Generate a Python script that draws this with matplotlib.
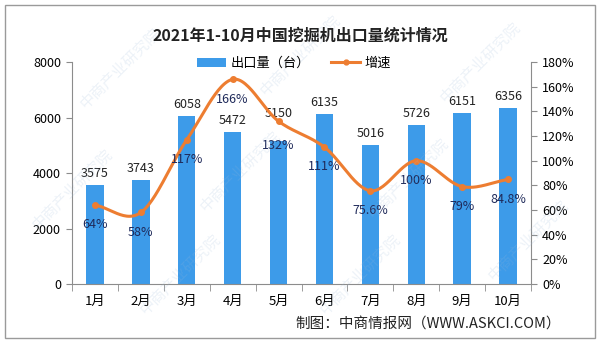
import numpy as np
import matplotlib.pyplot as plt
from matplotlib.lines import Line2D
from matplotlib.patches import Patch, Rectangle

plt.rcParams['font.family'] = ['Noto Sans CJK SC', 'DejaVu Sans']

months = ['1月', '2月', '3月', '4月', '5月', '6月', '7月', '8月', '9月', '10月']
exports = [3575, 3743, 6058, 5472, 5150, 6135, 5016, 5726, 6151, 6356]
growth = [64, 58, 117, 166, 132, 111, 75.6, 100, 79, 84.8]
growth_labels = ['64%', '58%', '117%', '166%', '132%', '111%', '75.6%', '100%', '79%', '84.8%']

BAR_COLOR = '#3d9be9'
LINE_COLOR = '#ed7d31'
AXIS_COLOR = '#8c8c8c'


def smooth_curve(x, y, steps=30):
    # Catmull-Rom through the points, like a spreadsheet "smoothed line"
    x = np.asarray(x, float)
    y = np.asarray(y, float)
    px = np.concatenate([[2 * x[0] - x[1]], x, [2 * x[-1] - x[-2]]])
    py = np.concatenate([[2 * y[0] - y[1]], y, [2 * y[-1] - y[-2]]])
    t = np.linspace(0, 1, steps)
    xs, ys = [], []
    for i in range(1, len(px) - 2):
        for p, out in ((px, xs), (py, ys)):
            p0, p1, p2, p3 = p[i - 1], p[i], p[i + 1], p[i + 2]
            out.append(0.5 * (2 * p1 + (-p0 + p2) * t
                              + (2 * p0 - 5 * p1 + 4 * p2 - p3) * t ** 2
                              + (-p0 + 3 * p1 - 3 * p2 + p3) * t ** 3))
    return np.concatenate(xs), np.concatenate(ys)


fig = plt.figure(figsize=(6, 3.43), dpi=100)
fig.patches.append(Rectangle((0.008, 0.015), 0.984, 0.97, transform=fig.transFigure,
                             fill=False, edgecolor='#9a9a9a', linewidth=1.0))

# faint diagonal watermark
for wx, wy in [(0.2, 0.8), (0.5, 0.84), (0.8, 0.82), (0.12, 0.45),
               (0.4, 0.5), (0.68, 0.48), (0.3, 0.2), (0.6, 0.2), (0.88, 0.3)]:
    fig.text(wx, wy, '中商产业研究院', rotation=45, fontsize=11, color='#9ab8d8',
             alpha=0.18, ha='center', va='center', zorder=0)

ax = fig.add_axes([0.12, 0.172, 0.765, 0.647])
ax2 = ax.twinx()
x = np.arange(len(months))

# 5月 labels sit on the curve, so spread them apart a little
bar_label_pad = {4: 600}
line_label_pad = {4: 4}

ax.bar(x, exports, width=0.38, color=BAR_COLOR, zorder=2)
for xi, v in zip(x, exports):
    ax.text(xi, v + 180 + bar_label_pad.get(xi, 0), str(v), ha='center', va='bottom',
            fontsize=9, color='#222222')

sx, sy = smooth_curve(x, growth)
ax2.plot(sx, sy, color=LINE_COLOR, linewidth=2.2, zorder=3)
ax2.plot(x, growth, 'o', color=LINE_COLOR, markersize=4, zorder=4)
for xi, v, lab in zip(x, growth, growth_labels):
    ax2.text(xi, v - 16 - line_label_pad.get(xi, 0), lab, ha='center', va='center',
             fontsize=9, color='#1f2a5a', zorder=5)

ax.set_xlim(-0.5, len(months) - 0.5)
ax.set_ylim(0, 8000)
ax.set_yticks(range(0, 8001, 2000))
ax2.set_ylim(0, 180)
ax2.set_yticks(range(0, 181, 20))
ax2.set_yticklabels([f'{v}%' for v in range(0, 181, 20)])

ax.set_xticks(x)
ax.set_xticklabels(months, fontsize=9.5)
ax.set_xticks(np.arange(-0.5, len(months), 1), minor=True)
ax.tick_params(axis='x', which='major', length=0, pad=8)
ax.tick_params(axis='x', which='minor', length=5, color=AXIS_COLOR)
ax.tick_params(axis='y', length=4, color=AXIS_COLOR, labelsize=9, pad=4)
ax2.tick_params(axis='y', length=4, color=AXIS_COLOR, labelsize=9, pad=4)

for a in (ax, ax2):
    a.spines['top'].set_visible(False)
    for s in ('left', 'right', 'bottom'):
        a.spines[s].set_color(AXIS_COLOR)
ax.spines['right'].set_visible(False)
ax2.spines['left'].set_visible(False)
ax2.spines['bottom'].set_visible(False)
ax.set_zorder(ax2.get_zorder() - 1)
ax.patch.set_visible(False)

fig.text(0.5, 0.895, '2021年1-10月中国挖掘机出口量统计情况', ha='center', va='center',
         fontsize=11.5, fontweight='bold', color='#222222')

handles = [Patch(facecolor=BAR_COLOR, edgecolor='none'),
           Line2D([0], [0], color=LINE_COLOR, linewidth=2.2, marker='o', markersize=3.5)]
fig.legend(handles, ['出口量（台）', '增速'], loc='center', bbox_to_anchor=(0.49, 0.815),
           ncol=2, frameon=False, fontsize=9.5, handlelength=2.2, handletextpad=0.3,
           columnspacing=1.6)

fig.text(0.935, 0.058, '制图：中商情报网（WWW.ASKCI.COM）', ha='right', va='center',
         fontsize=10.5, color='#222222')

fig.savefig('out.png', dpi=100)
